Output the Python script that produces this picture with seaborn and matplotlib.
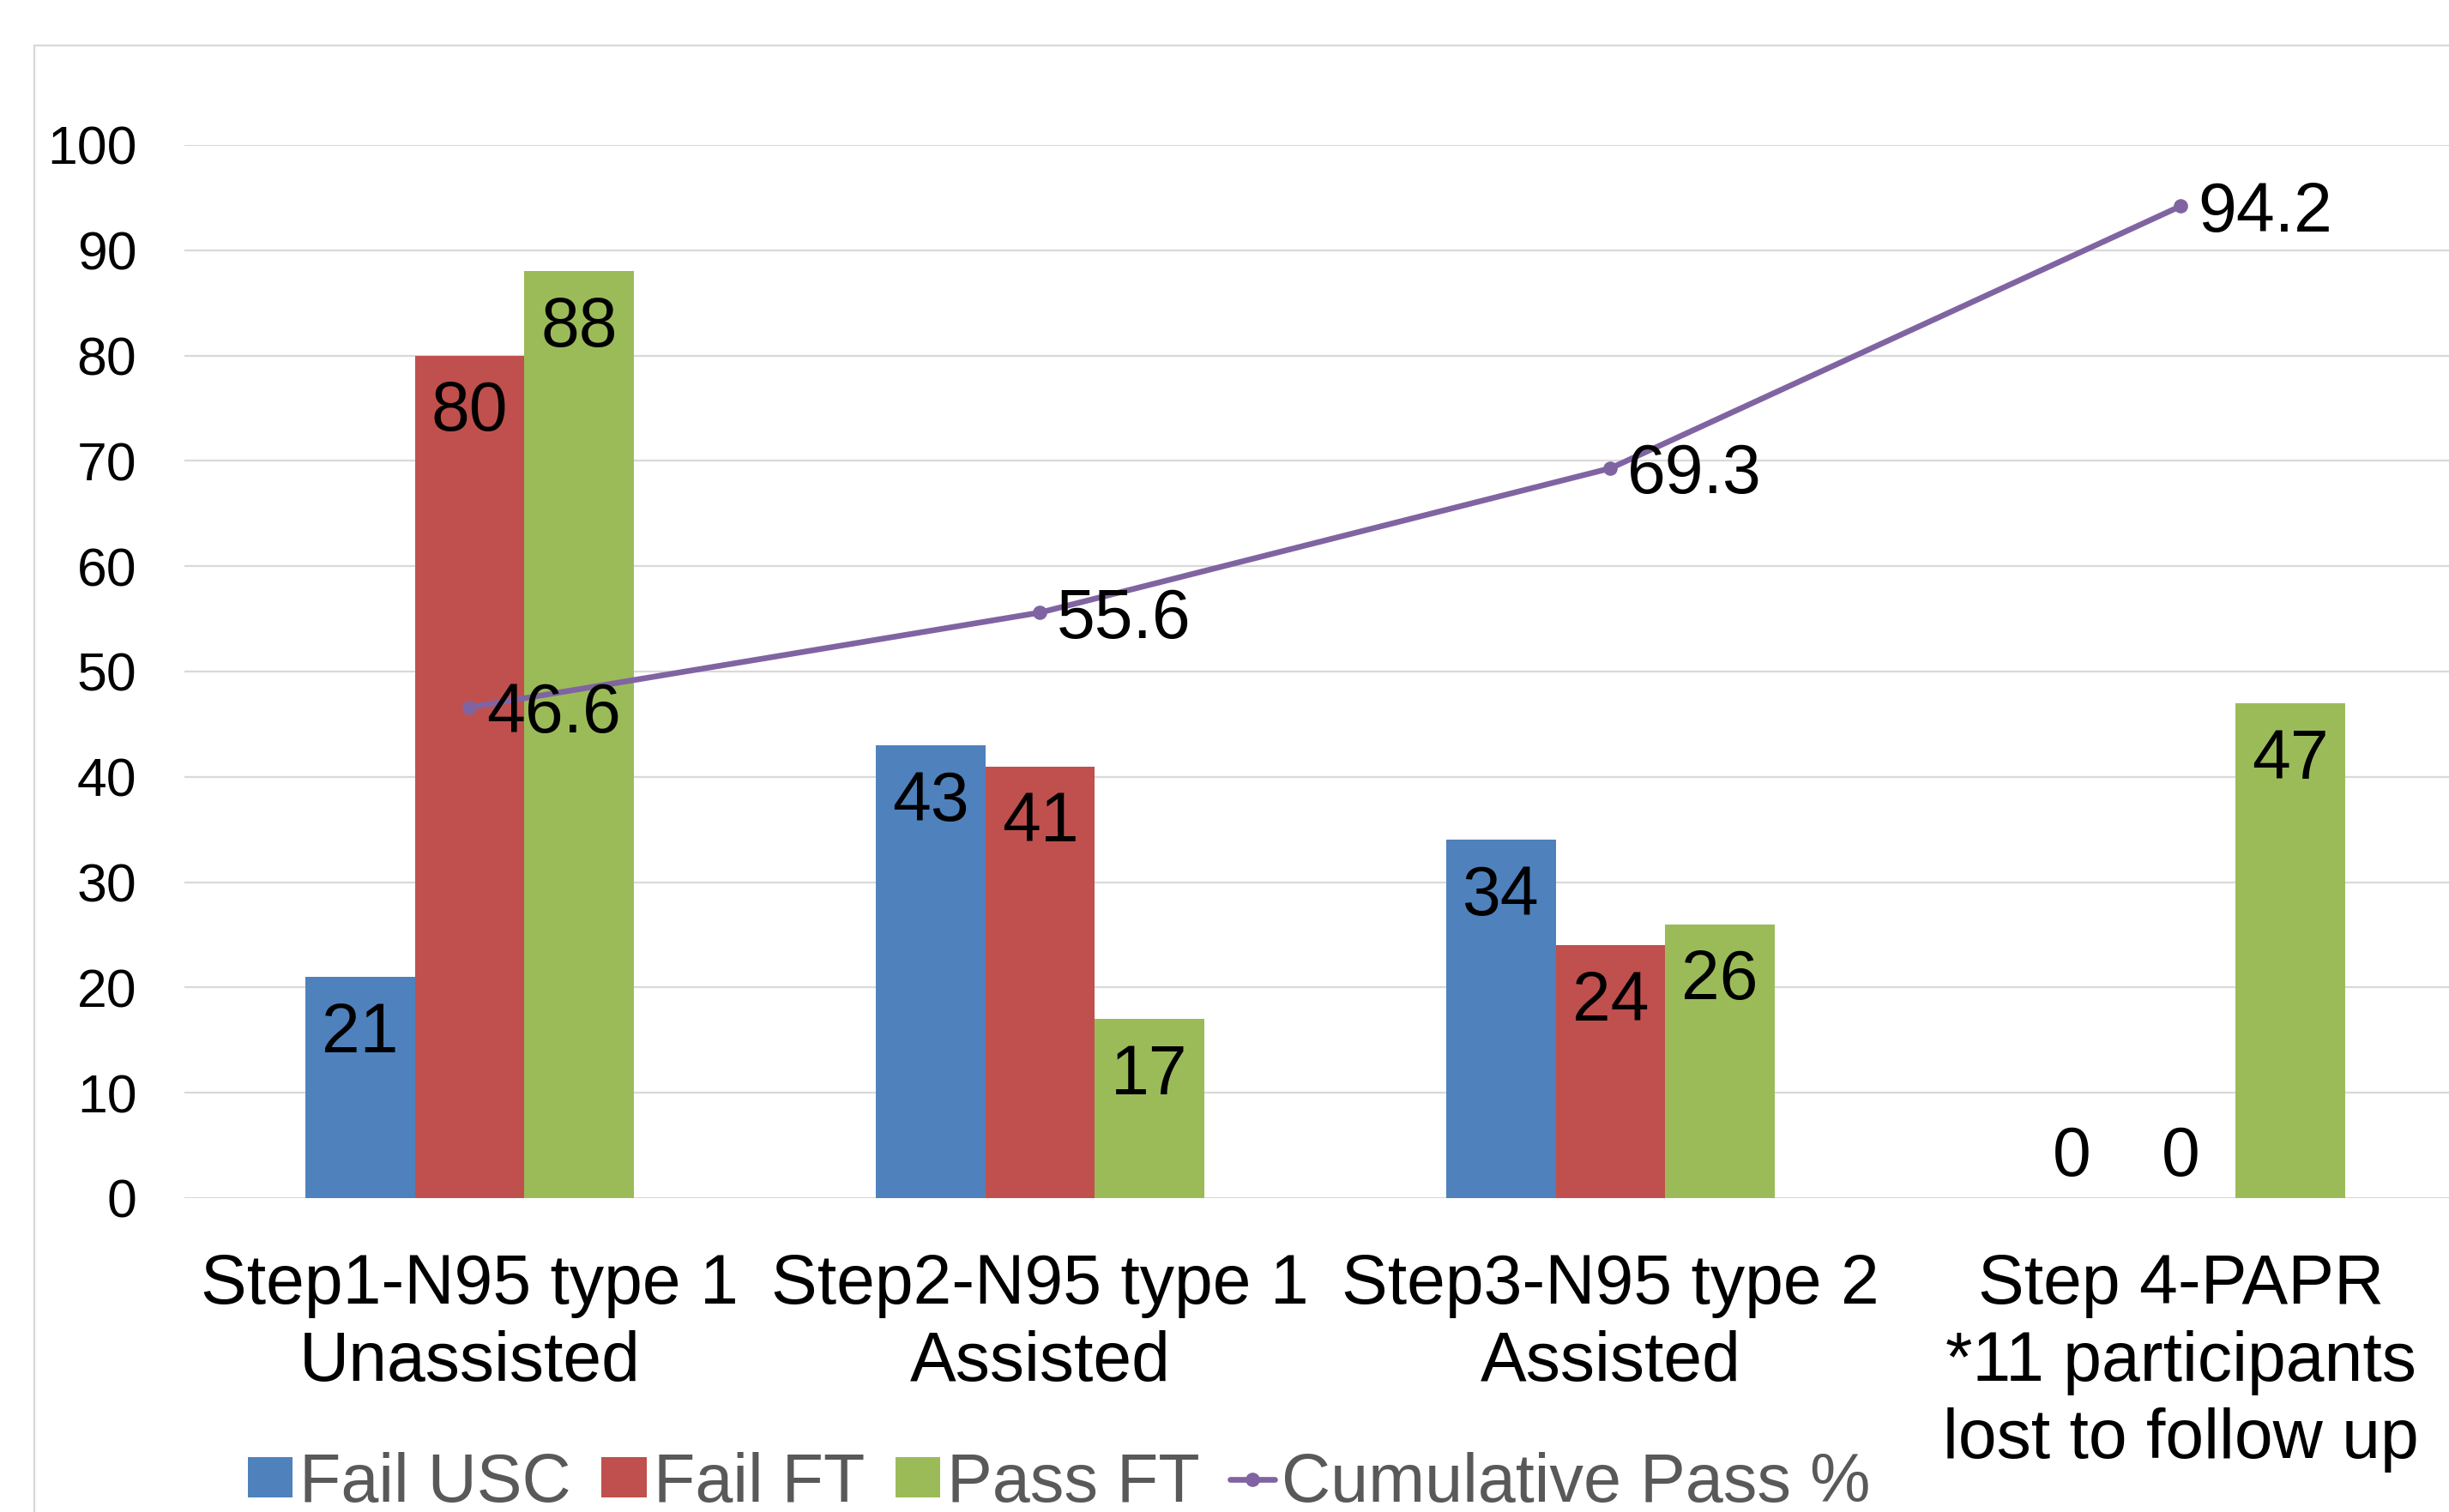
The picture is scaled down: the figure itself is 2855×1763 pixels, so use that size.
import numpy as np
import pandas as pd
import matplotlib
matplotlib.use("Agg")
import matplotlib.pyplot as plt
from matplotlib.patches import Patch, Rectangle
from matplotlib.lines import Line2D
import seaborn as sns

# Data
categories = [
    "Step1-N95 type 1\nUnassisted",
    "Step2-N95 type 1\nAssisted",
    "Step3-N95 type 2\nAssisted",
    "Step 4-PAPR\n*11 participants\nlost to follow up",
]
series_names = ["Fail USC", "Fail FT", "Pass FT"]
fail_usc = [21, 43, 34, 0]
fail_ft = [80, 41, 24, 0]
pass_ft = [88, 17, 26, 47]
cumulative_pass = [46.6, 55.6, 69.3, 94.2]
line_name = "Cumulative Pass %"
y_ticks = [0, 10, 20, 30, 40, 50, 60, 70, 80, 90, 100]

bar_colors = ["#4F81BD", "#C0504D", "#9BBB59"]
line_color = "#8064A2"
grid_color = "#D9D9D9"

series_values = [fail_usc, fail_ft, pass_ft]
df = pd.DataFrame(
    {
        "Step": [c for vals in series_values for c in categories],
        "Count": [v for vals in series_values for v in vals],
        "Series": [name for name, vals in zip(series_names, series_values) for _ in vals],
    }
)

sns.set_theme(style="white")
plt.rcParams["font.family"] = ["Liberation Sans", "DejaVu Sans"]

W, H = 2855, 1763
fig = plt.figure(figsize=(W / 100, H / 100), dpi=100)
fig.patch.set_facecolor("white")

# Outer chart border
fig.patches.append(
    Rectangle((40 / W, -0.1), 1.2, 1 - 53 / H + 0.1, transform=fig.transFigure,
              fill=False, edgecolor=grid_color, lw=1.6, zorder=0)
)

ax = fig.add_axes([215 / W, 366 / H, 2660 / W, 1228 / H])
ax.set_facecolor("none")

sns.barplot(
    data=df, x="Step", y="Count", hue="Series", hue_order=series_names,
    order=categories, palette=bar_colors, width=0.575, saturation=1,
    linewidth=0, legend=False, ax=ax, zorder=2,
)

xs = np.arange(len(categories))
sns.lineplot(
    x=xs, y=cumulative_pass, color=line_color, linewidth=4.8, marker="o",
    markersize=12, markeredgewidth=0, ax=ax, zorder=4,
)

# Bar value labels (inside end; zero bars get the label above the baseline)
for container, vals in zip(ax.containers, series_values):
    for rect, v in zip(container, vals):
        cx = rect.get_x() + rect.get_width() / 2
        ax.annotate(
            f"{v}", (cx, v), xytext=(0, -48 if v > 0 else 34),
            textcoords="offset points", ha="center", va="center",
            fontsize=58, color="black", zorder=5,
        )

# Line value labels to the right of each point
for x, v in zip(xs, cumulative_pass):
    ax.annotate(
        f"{v}", (x, v), xytext=(14, -6), textcoords="offset points",
        ha="left", va="center", fontsize=58, color="black", zorder=5,
    )

ax.set_ylim(0, 100)
ax.set_xlim(-0.5, len(categories) - 0.5)
ax.set_yticks(y_ticks)
ax.set_yticklabels([str(t) for t in y_ticks])
ax.set_xticks(xs)
ax.set_xticklabels(categories, linespacing=1.24)
ax.tick_params(axis="y", length=0, pad=40, labelsize=45, labelcolor="black")
ax.tick_params(axis="x", length=0, pad=46, labelsize=58, labelcolor="black")
ax.set_xlabel("")
ax.set_ylabel("")
for s in ax.spines.values():
    s.set_visible(False)
ax.yaxis.grid(True, color=grid_color, lw=1.6)
ax.set_axisbelow(True)

handles = [Patch(facecolor=c, edgecolor="none") for c in bar_colors]
handles.append(Line2D([0], [0], color=line_color, lw=4.8, marker="o",
                      markersize=12, markeredgewidth=0))
fig.legend(
    handles, series_names + [line_name], loc="center left",
    bbox_to_anchor=(289 / W, 0.0187), ncol=4, frameon=False, fontsize=57,
    labelcolor="#595959", handlelength=0.66, handleheight=0.52,
    handletextpad=0.1, columnspacing=0.45, borderaxespad=0, borderpad=0,
)

fig.savefig("out.png", dpi=100, facecolor="white")
